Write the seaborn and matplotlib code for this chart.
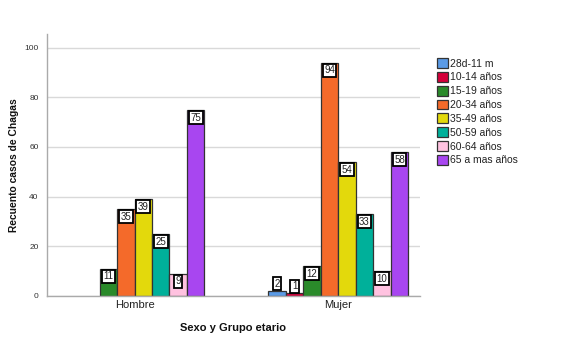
import numpy as np
import pandas as pd
import matplotlib
matplotlib.use("Agg")
import matplotlib.pyplot as plt
import seaborn as sns

sexo = ["Hombre", "Mujer"]
grupos = ["28d-11 m", "10-14 años", "15-19 años", "20-34 años",
          "35-49 años", "50-59 años", "60-64 años", "65 a mas años"]
hombre = [np.nan, np.nan, 11, 35, 39, 25, 9, 75]
mujer = [2, 1, 12, 94, 54, 33, 10, 58]
colores = ["#5B9BE6", "#D5003A", "#2A8A2A", "#F46A2A",
           "#E3D90C", "#00B09A", "#FFC2E0", "#A846F0"]

rows = []
for s, vals in zip(sexo, [hombre, mujer]):
    for g, v in zip(grupos, vals):
        rows.append({"Sexo": s, "Grupo": g, "Recuento": v})
df = pd.DataFrame(rows)

sns.set_theme(style="white")
plt.rcParams["font.family"] = ["Liberation Sans", "DejaVu Sans"]

fig = plt.figure(figsize=(5.72, 3.63), dpi=100)
ax = fig.add_axes([0.082, 0.185, 0.652, 0.721])

sns.barplot(data=df, x="Sexo", y="Recuento", hue="Grupo", order=sexo,
            hue_order=grupos, palette=colores, width=0.686, gap=0,
            saturation=1, edgecolor="#333333", linewidth=0.9, ax=ax,
            legend=True, errorbar=None)

ax.set_ylim(0, 105.5)
ax.set_xlim(-0.43, 0.40 + 1)
ax.set_yticks([0, 20, 40, 60, 80, 100])
ax.yaxis.grid(True, color="#D9D9D9", linewidth=1)
ax.set_axisbelow(True)
for side in ["top", "right"]:
    ax.spines[side].set_visible(False)
for side in ["left", "bottom"]:
    ax.spines[side].set_color("#AAAAAA")
    ax.spines[side].set_linewidth(1)
ax.tick_params(axis="y", labelsize=6, colors="#333333", length=0, pad=6)
ax.tick_params(axis="x", labelsize=8, colors="#222222", length=0, pad=3)
ax.set_ylabel("Recuento casos de Chagas", fontsize=7.4, fontweight="bold",
              color="#111111", labelpad=3.5)
ax.set_xlabel("Sexo y Grupo etario", fontsize=8, fontweight="bold",
              color="#111111", labelpad=9)

for cont in ax.containers:
    for bar in cont:
        h = bar.get_height()
        if h is None or np.isnan(h) or h <= 0:
            continue
        xc = bar.get_x() + bar.get_width() / 2
        if h > 6:
            ax.annotate(f"{int(h)}", (xc, h), xytext=(0, -2),
                        textcoords="offset points", ha="center", va="top",
                        fontsize=7, color="#222222",
                        bbox=dict(boxstyle="square,pad=0.15", fc="white",
                                  ec="black", lw=1.3))
        else:
            ax.annotate(f"{int(h)}", (xc, h), xytext=(0, 1.5),
                        textcoords="offset points", ha="center", va="bottom",
                        fontsize=7, color="#222222",
                        bbox=dict(boxstyle="square,pad=0.15", fc="white",
                                  ec="black", lw=1.3))

handles, labels = ax.get_legend_handles_labels()
ax.get_legend().remove()
for h in handles:
    h.set_edgecolor("#333333")
fig.legend(handles, labels, loc="upper left",
           bbox_to_anchor=(432 / 572, 1 - 53 / 363), frameon=False,
           fontsize=7.5, handlelength=1.05, handleheight=1.05,
           handletextpad=0.15, labelspacing=0.33, borderpad=0,
           labelcolor="#222222")

fig.savefig("out.png", dpi=100)
